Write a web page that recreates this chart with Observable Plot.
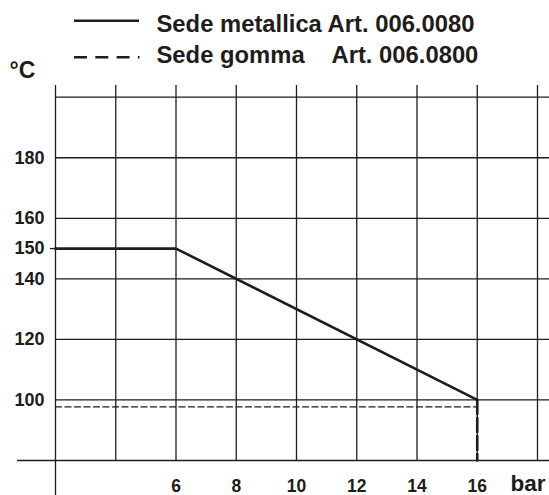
<!DOCTYPE html>
<html><head><meta charset="utf-8">
<script src="https://cdn.jsdelivr.net/npm/d3@7"></script>
<script src="https://cdn.jsdelivr.net/npm/@observablehq/plot@0.6"></script>
<style>
body{margin:0;background:#fff;font-family:"Liberation Sans",Arial,sans-serif;}
#chart{width:549px;height:495px;overflow:hidden}
#chart svg{display:block}
</style></head><body><div id="chart"></div>
<script>
// ---- data ----
const seriesNames = ["Sede metallica", "Sede gomma"];
const articles = ["Art. 006.0080", "Art. 006.0800"];
const metalBar = [2, 6, 16];
const metalTemp = [150, 150, 100];
const rubberBar = [2, 16];
const rubberTemp = [97.7, 97.7];
const limitBar = [16, 16];
const limitTemp = [100, 80];
const xTicks = [6, 8, 10, 12, 14, 16];
const yTicks = [100, 120, 140, 150, 160, 180];
const yMarkedTick = [150];
const xGrid = [4, 6, 8, 10, 12, 14, 16, 18];
const yGrid = [80, 100, 120, 140, 160, 180, 200];
const xDomain = [2, 18];
const yDomain = [80, 200];
const xUnit = "bar";
const yUnit = "°C";

const ink = "#1e1c1c";
const W = 549, H = 495, headH = 85;
const plotH = H - headH;
const mL = 55, mR = 12, mT = 11.7, mB = 35;

// ---- header (legend + unit) ----
const head = d3.create("svg").attr("width", W).attr("height", headH)
  .attr("font-family", "Liberation Sans, Arial, sans-serif").attr("font-weight", "bold").attr("fill", ink);
head.append("line").attr("x1", 74).attr("x2", 139).attr("y1", 20.7).attr("y2", 20.7)
  .attr("stroke", ink).attr("stroke-width", 2.6);
head.append("line").attr("x1", 74).attr("x2", 139.5).attr("y1", 57.3).attr("y2", 57.3)
  .attr("stroke", ink).attr("stroke-width", 2.5).attr("stroke-dasharray", "13,8.3");
head.append("text").attr("x", 156.5).attr("y", 31.5).attr("font-size", 23.8)
  .text(seriesNames[0] + " " + articles[0]);
head.append("text").attr("x", 156.5).attr("y", 63.2).attr("font-size", 23.8).text(seriesNames[1]);
head.append("text").attr("x", 331.5).attr("y", 63.2).attr("font-size", 23.8).text(articles[1]);
head.append("text").attr("x", 9.5).attr("y", 78.3).attr("font-size", 23).text(yUnit);

// ---- plot ----
const xPerPx = (xDomain[1] - xDomain[0]) / (W - mL - mR);
const yPerPx = (yDomain[1] - yDomain[0]) / (plotH - mT - mB);
const xRightEdge = xDomain[1] + mR * xPerPx;
const xLeftStub = xDomain[0] - 38 * xPerPx;
const yTopEdge = yDomain[1] + mT * yPerPx;
const yBottomEdge = yDomain[0] - mB * yPerPx;

const hLines = yGrid.map(v => ({y: v, x1: v === yDomain[0] ? xLeftStub : xDomain[0], x2: xRightEdge}));
const vLines = xGrid.map(v => ({x: v, y1: yDomain[0], y2: yTopEdge}));

const metal = metalBar.map((b, i) => ({b, t: metalTemp[i]}));
const rubber = rubberBar.map((b, i) => ({b, t: rubberTemp[i]}));
const limit = limitBar.map((b, i) => ({b, t: limitTemp[i]}));

const plot = Plot.plot({
  width: W, height: plotH,
  marginLeft: mL, marginRight: mR, marginTop: mT, marginBottom: mB,
  x: {domain: xDomain, axis: null},
  y: {domain: yDomain, axis: null},
  style: {fontFamily: "Liberation Sans, Arial, sans-serif", color: ink, background: "#fff", overflow: "visible"},
  marks: [
    Plot.ruleY(hLines, {y: "y", x1: "x1", x2: "x2", stroke: ink, strokeWidth: 1.3}),
    Plot.ruleX(vLines, {x: "x", y1: "y1", y2: "y2", stroke: ink, strokeWidth: 1.3}),
    Plot.ruleX([xDomain[0]], {y1: yBottomEdge, y2: yTopEdge, stroke: ink, strokeWidth: 1.3}),
    Plot.line(rubber, {x: "b", y: "t", stroke: ink, strokeWidth: 1.3, strokeDasharray: "6,3.5"}),
    Plot.line(limit, {x: "b", y: "t", stroke: ink, strokeWidth: 2.6, strokeDasharray: "14,4"}),
    Plot.line(metal, {x: "b", y: "t", stroke: ink, strokeWidth: 2.6}),
    Plot.axisY({ticks: yMarkedTick, tickSize: 5, tickFormat: () => "", label: null, stroke: ink, strokeWidth: 1.3}),
    Plot.axisY({ticks: yTicks, tickSize: 0, tickPadding: 11, fontSize: 18, fontWeight: "bold", label: null, fill: ink}),
    Plot.axisX({ticks: xTicks, tickSize: 0, tickPadding: 19, fontSize: 17.5, fontWeight: "bold", label: null, fill: ink}),
    Plot.text([xUnit], {frameAnchor: "bottom-right", textAnchor: "start", lineAnchor: "bottom", dx: -27, dy: 30.5, fontSize: 22.5, fontWeight: "bold", fill: ink})
  ]
});

const root = document.getElementById("chart");
root.appendChild(head.node());
root.appendChild(plot);
</script></body></html>
